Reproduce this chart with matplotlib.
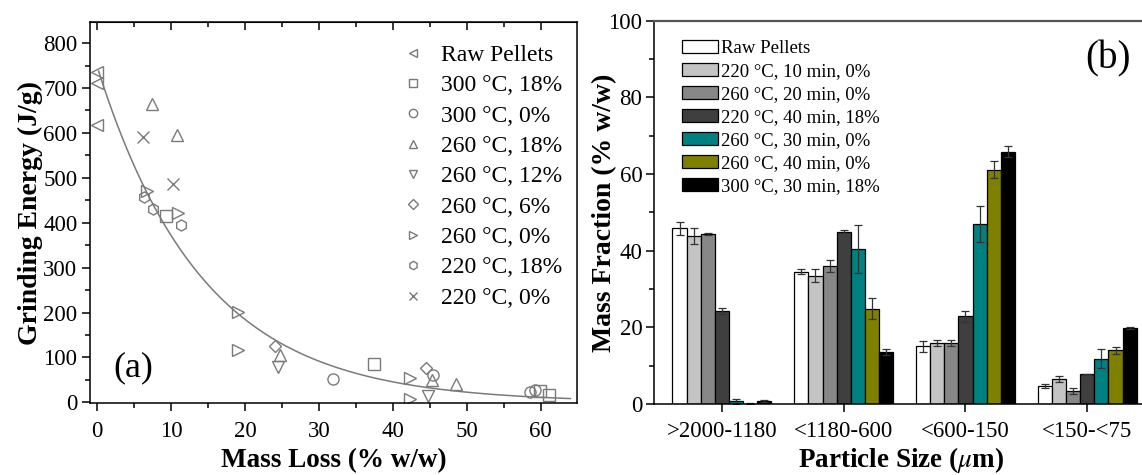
import numpy as np
import matplotlib
matplotlib.use("Agg")
from matplotlib import pyplot as plt
from matplotlib.ticker import MultipleLocator

plt.rcParams['font.family'] = ['Liberation Serif', 'DejaVu Serif']
plt.rcParams['mathtext.fontset'] = 'stix'

# ---- panel (a): grinding energy vs mass loss ----
raw_x = [0.0, 0.0, 0.0]
raw_y = [736, 711, 618]
t300_18_x = [9.3, 37.4, 59.9, 61.1]
t300_18_y = [416, 85, 25, 16]
t300_0_x = [31.9, 45.4, 58.5, 59.2]
t300_0_y = [53, 62, 24, 27]
t260_18_x = [7.4, 10.8, 24.7, 45.3, 48.5]
t260_18_y = [664, 595, 105, 49, 41]
t260_12_x = [24.4, 44.7]
t260_12_y = [78, 14]
t260_6_x = [24.1, 44.5]
t260_6_y = [125, 77]
t260_0_x = [6.7, 10.9, 19.0, 19.0, 42.3, 42.3]
t260_0_y = [470, 421, 201, 116, 55, 8]
t220_18_x = [6.4, 7.6, 11.4]
t220_18_y = [458, 430, 396]
t220_0_x = [6.2, 10.3]
t220_0_y = [592, 486]

# exponential fit shown in the paper: E = A * exp(-ML / tau)
fit_A = 748.0
fit_tau = 14.3
fit_xmin, fit_xmax = 0.2, 64.0

# ---- panel (b): particle size distribution ----
size_classes = ['>2000-1180', '<1180-600', '<600-150', '<150-<75']
series_names = ['Raw Pellets', '220 °C, 10 min, 0%', '260 °C, 20 min, 0%',
                '220 °C, 40 min, 18%', '260 °C, 30 min, 0%',
                '260 °C, 40 min, 0%', '300 °C, 30 min, 18%']
raw_frac = [45.8, 34.5, 15.0, 4.7]
raw_err = [1.6, 0.6, 1.4, 0.5]
s220_10_frac = [43.8, 33.5, 16.0, 6.5]
s220_10_err = [2.0, 1.7, 0.8, 0.8]
s260_20_frac = [44.3, 36.0, 16.0, 3.4]
s260_20_err = [0.2, 1.6, 0.8, 0.9]
s220_40_frac = [24.3, 45.0, 22.9, 7.7]
s220_40_err = [0.7, 0.3, 1.4, 0.2]
s260_30_frac = [0.7, 40.4, 47.0, 11.8]
s260_30_err = [0.7, 6.3, 4.7, 2.5]
s260_40_frac = [0.1, 24.9, 61.1, 14.0]
s260_40_err = [0.1, 2.8, 2.2, 0.9]
s300_30_frac = [0.7, 13.6, 65.8, 19.8]
s300_30_err = [0.3, 0.7, 1.4, 0.2]

fracs = [raw_frac, s220_10_frac, s260_20_frac, s220_40_frac,
         s260_30_frac, s260_40_frac, s300_30_frac]
errs = [raw_err, s220_10_err, s260_20_err, s220_40_err,
        s260_30_err, s260_40_err, s300_30_err]
bar_colors = ['white', '#c4c4c4', '#878787', '#3f3f3f', '#008080', '#808000', 'black']

fig = plt.figure(figsize=(11.42, 4.75), dpi=100)

# ----------------- (a) -----------------
ax1 = fig.add_axes([0.0792, 0.151, 0.4261, 0.8027])
mc = '#7a7a7a'
groups = [
    (raw_x, raw_y, '<', 'Raw Pellets'),
    (t300_18_x, t300_18_y, 's', '300 °C, 18%'),
    (t300_0_x, t300_0_y, 'o', '300 °C, 0%'),
    (t260_18_x, t260_18_y, '^', '260 °C, 18%'),
    (t260_12_x, t260_12_y, 'v', '260 °C, 12%'),
    (t260_6_x, t260_6_y, 'D', '260 °C, 6%'),
    (t260_0_x, t260_0_y, '>', '260 °C, 0%'),
    (t220_18_x, t220_18_y, 'h', '220 °C, 18%'),
    (t220_0_x, t220_0_y, 'x', '220 °C, 0%'),
]
for gx, gy, m, lab in groups:
    ms = 6.5 if m == 'D' else 8
    ax1.plot(gx, gy, linestyle='none', marker=m, markersize=ms,
             markerfacecolor='none', markeredgecolor=mc, markeredgewidth=1.0,
             label=lab)

xf = np.linspace(fit_xmin, fit_xmax, 200)
ax1.plot(xf, fit_A * np.exp(-xf / fit_tau), color='#7a7a7a', lw=1.1)

ax1.set_xlim(-0.9, 64.9)
ax1.set_ylim(-2, 847)
ax1.xaxis.set_major_locator(MultipleLocator(10))
ax1.xaxis.set_minor_locator(MultipleLocator(5))
ax1.yaxis.set_major_locator(MultipleLocator(100))
ax1.yaxis.set_minor_locator(MultipleLocator(50))
ax1.tick_params(which='both', direction='out', labelsize=16.5, width=1.1)
ax1.tick_params(which='major', length=6)
ax1.tick_params(which='minor', length=3.5)
ax1.tick_params(axis='x', which='major', pad=7)
sec = ax1.secondary_xaxis('top')
sec.xaxis.set_major_locator(MultipleLocator(10))
sec.xaxis.set_minor_locator(MultipleLocator(5))
sec.tick_params(which='both', direction='in', labeltop=False, width=1.1)
sec.tick_params(which='major', length=6)
sec.tick_params(which='minor', length=3.5)
for sp in ax1.spines.values():
    sp.set_linewidth(1.1)

ax1.set_xlabel('Mass Loss (% w/w)', fontsize=19.5, fontweight='bold')
ax1.set_ylabel('Grinding Energy (J/g)', fontsize=20, fontweight='bold')
ax1.xaxis.set_label_coords(0.5, -0.118)
ax1.yaxis.set_label_coords(-0.098, 0.5)
ax1.text(0.088, 0.092, '(a)', transform=ax1.transAxes, fontsize=26,
         ha='center', va='center')
ax1.legend(loc='upper left', bbox_to_anchor=(0.60, 0.985), frameon=False,
           fontsize=17, markerscale=0.75, handlelength=1.2,
           handletextpad=0.6, labelspacing=0.375, borderpad=0.2)

# ----------------- (b) -----------------
ax2 = fig.add_axes([0.5723, 0.1495, 0.4277, 0.8069])
xpos = np.arange(len(size_classes))
w = 0.1154
for i in range(len(fracs)):
    ax2.bar(xpos + (i - 3) * w, fracs[i], w, yerr=errs[i],
            color=bar_colors[i], edgecolor='black', linewidth=0.9,
            label=series_names[i],
            error_kw=dict(ecolor='#333333', elinewidth=0.9, capsize=3, capthick=0.9))

ax2.set_xlim(-0.559, 3.448)
ax2.set_ylim(0, 100)
ax2.set_xticks(xpos)
ax2.set_xticklabels(size_classes)
ax2.yaxis.set_major_locator(MultipleLocator(20))
ax2.yaxis.set_minor_locator(MultipleLocator(10))
ax2.tick_params(which='both', direction='out', labelsize=16.5, width=1.1)
ax2.tick_params(which='major', length=6)
ax2.tick_params(which='minor', length=3.5)
ax2.tick_params(axis='x', which='major', pad=6)
ax2.tick_params(axis='y', which='major', pad=2)
ax2.spines['right'].set_visible(False)
for sp in ax2.spines.values():
    sp.set_linewidth(1.1)
ax2.spines['top'].set_color('#555555')
ax2.spines['top'].set_linewidth(1.6)

ax2.set_xlabel('Particle Size ($\\mu$m)', fontsize=19.5, fontweight='bold')
ax2.set_ylabel('Mass Fraction (% w/w)', fontsize=20, fontweight='bold')
ax2.xaxis.set_label_coords(0.508, -0.108)
ax2.yaxis.set_label_coords(-0.074, 0.5)
ax2.text(0.93, 0.9, '(b)', transform=ax2.transAxes, fontsize=28,
         ha='center', va='center')
ax2.legend(loc='upper left', bbox_to_anchor=(0.031, 0.985), frameon=False,
           fontsize=13.5, handlelength=1.95, handleheight=0.7,
           handletextpad=0.15, labelspacing=0.32, borderpad=0.2)

fig.savefig('out.png', dpi=100)
